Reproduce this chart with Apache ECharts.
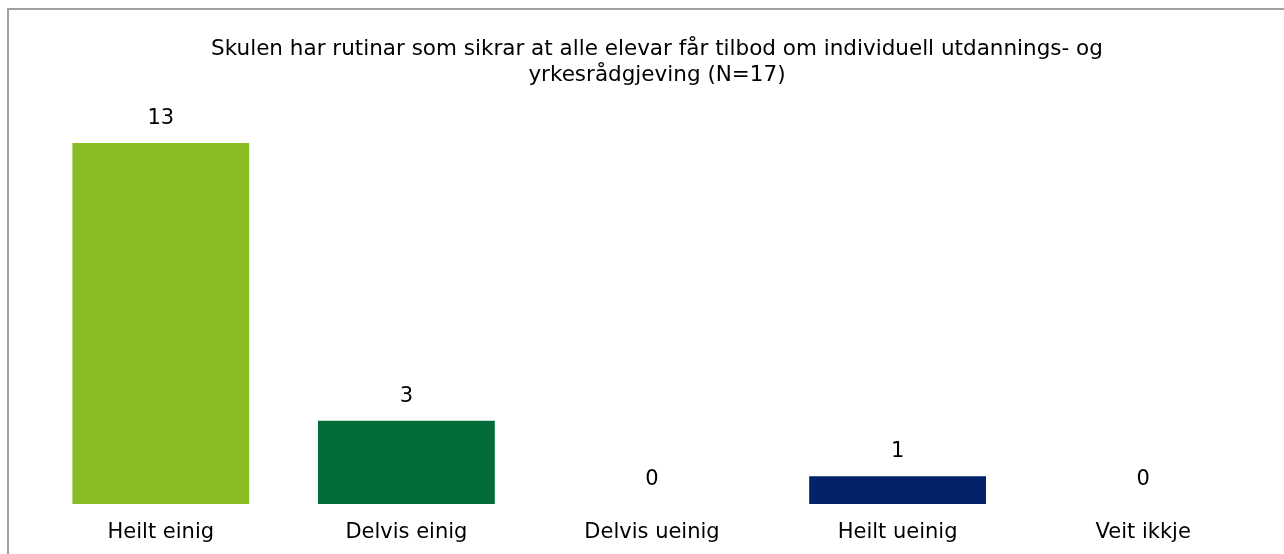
<!DOCTYPE html>
<html lang="nn">
<head>
    <meta charset="UTF-8">
    <title>Individuell utdannings- og yrkesrådgjeving</title>
    <script src="https://cdn.jsdelivr.net/npm/echarts/dist/echarts.min.js"></script>
    <style>
        html, body { margin: 0; padding: 0; background: #fff; }
        #main { width: 1284px; height: 554px; }
    </style>
</head>
<body>
<div id="main"></div>
<script>
    const categories = ['Heilt einig', 'Delvis einig', 'Delvis ueinig', 'Heilt ueinig', 'Veit ikkje'];
    const values = [13, 3, 0, 1, 0];
    const colors = ['#8abd24', '#046c39', '#5b9bd5', '#022369', '#999999'];
    const titleText = 'Skulen har rutinar som sikrar at alle elevar får tilbod om individuell utdannings- og\nyrkesrådgjeving (N=17)';

    const FONT = 'DejaVu Sans';

    const chart = echarts.init(document.getElementById('main'));

    const option = {
        animation: false,
        textStyle: { fontFamily: FONT },
        // grå ramme rundt figuren
        graphic: [{
            type: 'rect',
            shape: { x: 8, y: 9, width: 1300, height: 560 },
            style: { fill: 'none', stroke: '#a0a0a0', lineWidth: 2 },
            silent: true
        }],
        title: {
            text: titleText,
            left: 652,
            top: 31,
            textAlign: 'center',
            textStyle: {
                fontFamily: FONT,
                fontSize: 21.5,
                fontWeight: 'normal',
                color: '#000',
                lineHeight: 26
            }
        },
        grid: { left: 38, right: 18, top: 143, bottom: 50, containLabel: false },
        xAxis: {
            type: 'category',
            data: categories,
            axisLine: { show: false },
            axisTick: { show: false },
            axisLabel: { color: '#000', fontSize: 21, margin: 18, fontFamily: FONT }
        },
        yAxis: {
            type: 'value',
            min: 0,
            max: 13,
            show: false,
            splitLine: { show: false }
        },
        series: [{
            type: 'bar',
            barWidth: '72%',
            data: values.map((v, i) => ({ value: v, itemStyle: { color: colors[i] } })),
            label: {
                show: true,
                position: 'top',
                distance: 14,
                color: '#000',
                fontSize: 21,
                fontFamily: FONT
            }
        }]
    };

    chart.setOption(option);
</script>
</body>
</html>
